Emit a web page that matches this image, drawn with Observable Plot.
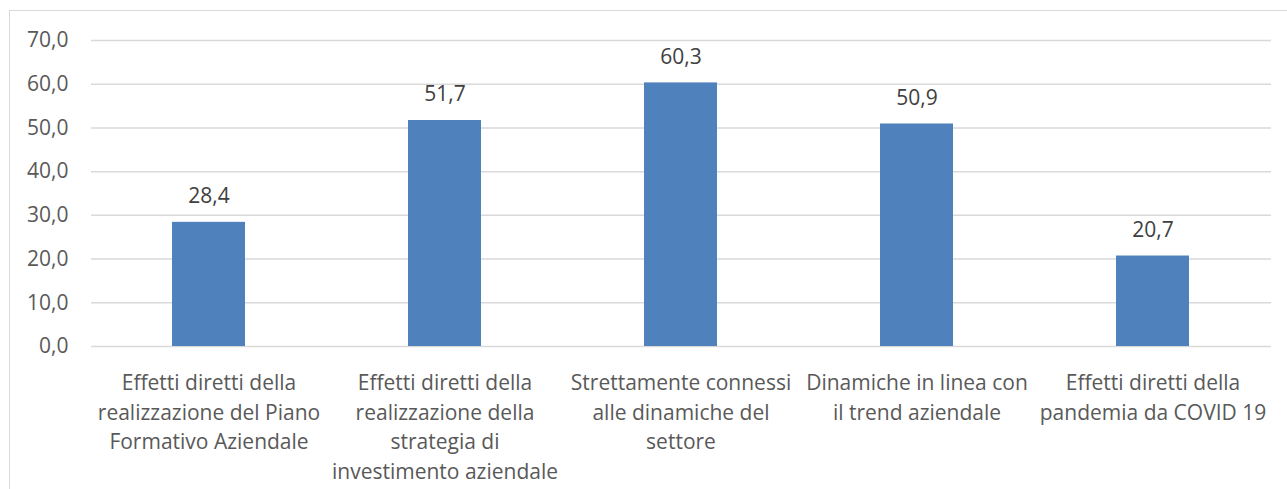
<!DOCTYPE html>
<html>
<head>
<meta charset="utf-8">
<script src="https://cdn.jsdelivr.net/npm/d3@7"></script>
<script src="https://cdn.jsdelivr.net/npm/@observablehq/plot@0.6"></script>
<style>
  html, body { margin: 0; padding: 0; background: #fff; width: 1287px; height: 489px; overflow: hidden; }
  #frame { position: absolute; left: 9px; top: 10px; width: 1290px; height: 490px; border-left: 1.5px solid #d9d9d9; border-top: 1.5px solid #d9d9d9; }
  #chart { position: absolute; left: 0; top: 0; }
  #chart svg { font-family: "Open Sans", sans-serif; overflow: visible; }
</style>
</head>
<body>
<div id="frame"></div>
<div id="chart"></div>
<script>
const categories = [
  "Effetti diretti della\nrealizzazione del Piano\nFormativo Aziendale",
  "Effetti diretti della\nrealizzazione della\nstrategia di\ninvestimento aziendale",
  "Strettamente connessi\nalle dinamiche del\nsettore",
  "Dinamiche in linea con\nil trend aziendale",
  "Effetti diretti della\npandemia da COVID 19"
];
const values = [28.4, 51.7, 60.3, 50.9, 20.7];
const yTicks = [0, 10, 20, 30, 40, 50, 60, 70];

const data = categories.map((c, i) => ({category: c, value: values[i]}));
const fmt = v => v.toFixed(1).replace(".", ",");

const chart = Plot.plot({
  width: 1287,
  height: 489,
  marginLeft: 91,
  marginRight: 16,
  marginTop: 40,
  marginBottom: 143,
  style: {fontSize: "21px", fontFamily: "'Open Sans', sans-serif", background: "transparent", overflow: "visible"},
  x: {domain: categories, paddingInner: 0.69, paddingOuter: 0.345, axis: null},
  y: {domain: [0, 70], axis: null},
  marks: [
    Plot.ruleY(yTicks, {stroke: "#d9d9d9", strokeWidth: 1.5}),
    Plot.barY(data, {x: "category", y: "value", fill: "#4F81BD"}),
    Plot.text(yTicks, {y: d => d, text: d => fmt(d), frameAnchor: "left", textAnchor: "end", dx: -23, fill: "#595959", fontSize: 21}),
    Plot.text(data, {x: "category", y: "value", text: d => fmt(d.value), lineAnchor: "bottom", dy: -19, fill: "#404040", fontSize: 21}),
    Plot.text(data, {x: "category", y: 0, text: "category", lineAnchor: "top", dy: 23, lineHeight: 1.4, fill: "#595959", fontSize: 21})
  ]
});
document.getElementById("chart").appendChild(chart);
</script>
</body>
</html>
